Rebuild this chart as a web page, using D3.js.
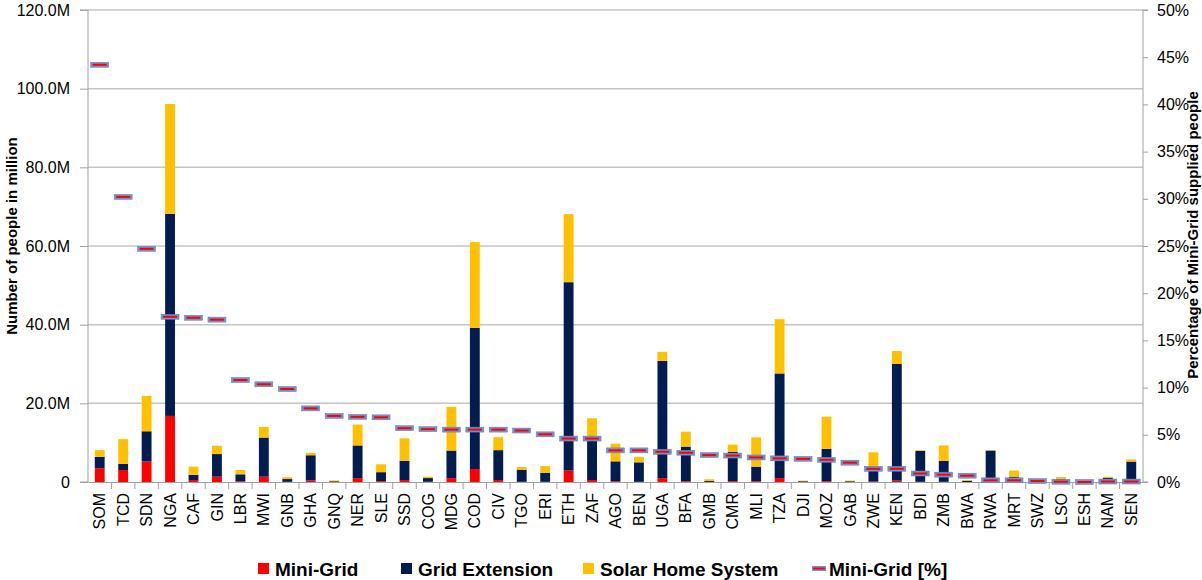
<html>
<head>
<script src="https://cdn.jsdelivr.net/npm/d3@7"></script>
<style>
body { margin: 0; background: #fff; }
text { font-family: "Liberation Sans", Arial, sans-serif; }
</style>
</head>
<body>
<svg id="chart" width="1202" height="580"></svg>
<script>
// country codes, sorted by share of mini-grid supply
var countries = ["SOM","TCD","SDN","NGA","CAF","GIN","LBR","MWI","GNB","GHA","GNQ","NER","SLE","SSD","COG",
  "MDG","COD","CIV","TGO","ERI","ETH","ZAF","AGO","BEN","UGA","BFA","GMB","CMR","MLI","TZA",
  "DJI","MOZ","GAB","ZWE","KEN","BDI","ZMB","BWA","RWA","MRT","SWZ","LSO","ESH","NAM","SEN"];

// people in million per technology
var miniGrid = [3.5,3.05,5.2,16.8,0.5,1.35,0.15,1.35,0.05,0.4,0.02,1.0,0.2,0.5,0.05,
  1.0,3.3,0.5,0.05,0.05,2.9,0.5,0.2,0.05,1.0,0.2,0.02,0.2,0.2,1.0,
  0.01,0.2,0.01,0.1,0.35,0.05,0.05,0,0.02,0,0,0,0,0,0];
var gridExt = [2.9,1.55,7.7,51.4,1.3,5.75,1.8,9.95,0.7,6.4,0.18,8.3,2.3,4.9,0.95,
  7.0,35.9,7.6,3.0,2.25,47.9,10.4,5.05,4.95,29.8,8.8,0.23,7.5,3.7,26.6,
  0.19,8.2,0.19,2.9,29.65,7.85,5.35,0.3,7.98,1.35,0.1,0.75,0.05,1.1,5.2];
var solarHome = [1.7,6.3,9.0,27.9,2.1,2.1,1.1,2.7,0.45,0.6,0.2,5.3,2.0,5.7,0.35,
  11.1,21.8,3.3,0.75,1.75,17.3,5.3,4.5,1.35,2.3,3.8,0.45,1.8,7.45,13.8,
  0.15,8.2,0.15,4.55,3.3,0.2,3.9,0.2,0.1,1.55,0.1,0.5,0.05,0.25,0.55];
// share of mini-grid supplied people (%)
var miniGridPct = [44.2,30.2,24.7,17.5,17.4,17.2,10.8,10.35,9.85,7.8,7.0,6.9,6.85,5.7,5.6,
  5.55,5.55,5.55,5.45,5.05,4.6,4.6,3.35,3.35,3.2,3.1,2.85,2.8,2.6,2.5,
  2.45,2.35,2.05,1.4,1.4,0.9,0.78,0.67,0.18,0.18,0.1,0.03,0,0.05,0.05];

var leftTicks = [0,20,40,60,80,100,120];
var rightTicks = [0,5,10,15,20,25,30,35,40,45,50];

var seriesNames = ["Mini-Grid","Grid Extension","Solar Home System"];
var colors = {"Mini-Grid":"#ff0000","Grid Extension":"#021c4f","Solar Home System":"#ffc000"};

var svg = d3.select("#chart");
var plotL = 88, plotR = 1143, plotT = 10, plotB = 482;

var x = d3.scaleBand().domain(countries).range([plotL,plotR]).paddingInner(0.58).paddingOuter(0.29);
var xb = d3.scaleBand().domain(countries).range([plotL,plotR]);
var y = d3.scaleLinear().domain([0,120]).range([plotB,plotT]);
var yp = d3.scaleLinear().domain([0,50]).range([plotB,plotT]);

// gridlines
svg.append("g").selectAll("line")
  .data(leftTicks.slice(1))
  .enter().append("line")
  .attr("x1",plotL).attr("x2",plotR)
  .attr("y1",function(d){return y(d);}).attr("y2",function(d){return y(d);})
  .attr("stroke","#c4c4c4").attr("stroke-width",1.5);

// stacked bars
var rows = countries.map(function(c,i){
  return {country:c,"Mini-Grid":miniGrid[i],"Grid Extension":gridExt[i],"Solar Home System":solarHome[i]};
});
var stack = d3.stack().keys(seriesNames)(rows);

svg.append("g").selectAll("g")
  .data(stack)
  .enter().append("g")
  .attr("fill",function(d){return colors[d.key];})
  .selectAll("rect")
  .data(function(d){return d;})
  .enter().append("rect")
  .attr("x",function(d){return x(d.data.country);})
  .attr("width",x.bandwidth())
  .attr("y",function(d){return y(d[1]);})
  .attr("height",function(d){return y(d[0])-y(d[1]);});

// axes
var gl = svg.append("g").attr("transform","translate("+plotL+",0)")
  .call(d3.axisLeft(y).tickValues(leftTicks).tickSize(8).tickPadding(10)
    .tickFormat(function(d){return d===0 ? "0" : d.toFixed(1)+"M";}));
var gr = svg.append("g").attr("transform","translate("+plotR+",0)")
  .call(d3.axisRight(yp).tickValues(rightTicks).tickSize(5).tickPadding(9)
    .tickFormat(function(d){return d+"%";}));
var gx = svg.append("g").attr("transform","translate(0,"+plotB+")")
  .call(d3.axisBottom(x).tickSize(0).tickPadding(11));

[gl,gr,gx].forEach(function(g){
  g.select(".domain").attr("stroke","#a0a0a0");
  g.selectAll(".tick line").attr("stroke","#a0a0a0");
  g.selectAll("text").attr("fill","#000").style("font-size","16px").style("font-family","'Liberation Sans', Arial, sans-serif");
});
gl.select(".domain").attr("d","M-8,"+plotT+"H0V"+plotB+"H-8");
gr.select(".domain").attr("d","M5,"+plotT+"H0V"+plotB+"H5");
gx.selectAll(".tick text")
  .attr("transform","rotate(-90)")
  .attr("text-anchor","end")
  .attr("dy","0.35em")
  .attr("x",-11).attr("y",0);

// category separators on x axis
svg.append("g").selectAll("line")
  .data(countries.slice(1))
  .enter().append("line")
  .attr("x1",function(d){return xb(d);}).attr("x2",function(d){return xb(d);})
  .attr("y1",plotB).attr("y2",plotB+7)
  .attr("stroke","#a0a0a0");

// mini-grid share markers
var mk = svg.append("g").selectAll("g")
  .data(countries)
  .enter().append("g")
  .attr("transform",function(d,i){return "translate("+(xb(d)+xb.bandwidth()/2)+","+yp(miniGridPct[i])+")";});
mk.append("rect").attr("x",-9).attr("y",-2.5).attr("width",18).attr("height",5)
  .attr("fill","#7094cc").attr("stroke","#5a7fbf").attr("stroke-width",0.5);
mk.append("rect").attr("x",-7).attr("y",-1).attr("width",14).attr("height",2).attr("fill","#ff0000");

// axis titles
svg.append("text")
  .attr("transform","translate(17,236) rotate(-90)")
  .attr("text-anchor","middle")
  .style("font-size","15px").style("font-weight","bold")
  .text("Number of people in million");
svg.append("text")
  .attr("transform","translate(1198,235) rotate(-90)")
  .attr("text-anchor","middle")
  .style("font-size","15px").style("font-weight","bold")
  .text("Percentage of Mini-Grid supplied people");

// legend
var legendX = [258,401,583,812];
var lg = svg.append("g");
seriesNames.forEach(function(s,i){
  lg.append("rect").attr("x",legendX[i]).attr("y",563).attr("width",11).attr("height",11).attr("fill",colors[s]);
  lg.append("text").attr("x",legendX[i]+17).attr("y",569).attr("dy","0.35em")
    .style("font-size","19px").style("font-weight","bold").text(s);
});
lg.append("rect").attr("x",legendX[3]).attr("y",566).attr("width",14).attr("height",5).attr("fill","#7094cc");
lg.append("rect").attr("x",legendX[3]+1).attr("y",567.5).attr("width",12).attr("height",2).attr("fill","#ff0000");
lg.append("text").attr("x",legendX[3]+17).attr("y",569).attr("dy","0.35em")
  .style("font-size","19px").style("font-weight","bold").text("Mini-Grid [%]");
</script>
</body>
</html>
